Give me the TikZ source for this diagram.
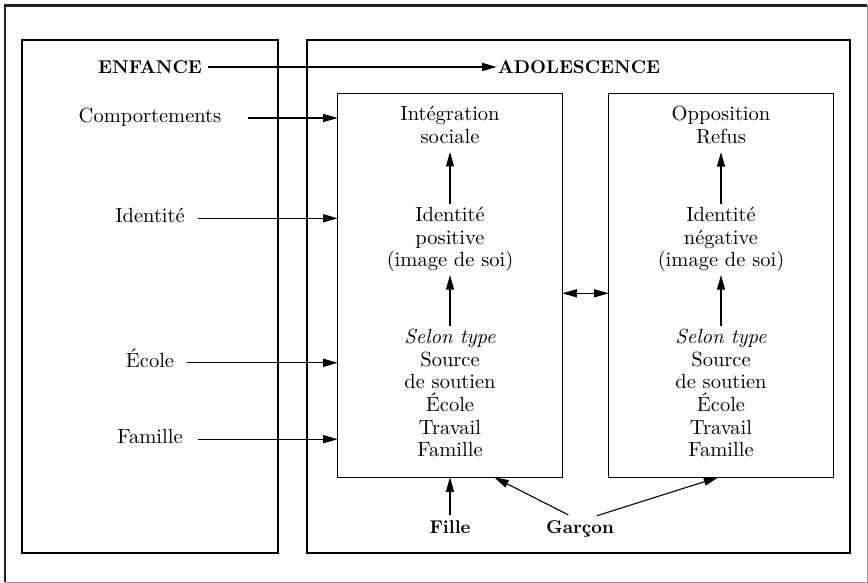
\documentclass[tikz,border=0pt]{standalone}
\usepackage{fontspec}
\setmainfont{lmroman10-regular.otf}[BoldFont=lmroman10-bold.otf, ItalicFont=lmroman10-italic.otf, BoldItalicFont=lmroman10-bolditalic.otf]
\usetikzlibrary{arrows.meta}
\begin{document}
\begin{tikzpicture}[x=1pt,y=-1pt,
  every node/.style={font=\fontsize{20.5}{22.6}\selectfont},
  txt/.style={align=center, inner sep=3pt},
  lbl/.style={inner sep=0pt, text height=14pt, text depth=5pt},
  bld/.style={font=\fontsize{18.5}{22}\selectfont\bfseries, inner sep=0pt, text height=12.7pt, text depth=0pt},
  box/.style={draw, line width=1.2pt, inner sep=0pt, outer sep=0pt},
  arr/.style={line width=1.1pt, -{Triangle[length=14.5pt,width=8pt]}},
  darr/.style={line width=1.1pt, {Triangle[length=14.5pt,width=8pt]}-{Triangle[length=14.5pt,width=8pt]}},
  framedark/.style={line width=2.4pt, black!88},
  framelight/.style={line width=0.9pt, black!40}
]
\useasboundingbox (0,0) rectangle (868,583);

% outer frame
\draw[framelight] (867,5.5) -- (867,582) -- (4.7,582);
\draw[framedark] (4.7,582) -- (4.7,5.5) -- (867,5.5);

% main boxes
\node[box, minimum width=256pt, minimum height=513pt] (enfbox) at (150,296.5) {};
\node[box, minimum width=543pt, minimum height=513pt] (adobox) at (578.5,296.5) {};
\node[box, minimum width=224.6pt, minimum height=384pt] (posbox) at (450,285.3) {};
\node[box, minimum width=224.6pt, minimum height=384pt] (negbox) at (721,285.3) {};

% headings
\node[bld] (enf) at (150,67) {ENFANCE};
\node[bld] (ado) at (579,67) {ADOLESCENCE};
\draw[arr, shorten <=6pt, shorten >=1pt] (enf.east) -- (ado.west);

% left labels
\node[lbl] (comp) at (150,118) {Comportements};
\node[lbl] (ident) at (150,218.3) {Identité};
\node[lbl] (ecole) at (150,362.8) {École};
\node[lbl] (fam) at (150,439.2) {Famille};
\draw[arr, shorten <=27pt] (comp.east) -- (comp.east -| posbox.west);
\draw[arr, shorten <=13pt] (ident.east) -- (ident.east -| posbox.west);
\draw[arr, shorten <=13pt] (ecole.east) -- (ecole.east -| posbox.west);
\draw[arr, shorten <=15pt] (fam.east) -- (fam.east -| posbox.west);

% positive box
\node[txt] (integ) at (450,125.2) {Intégration\\sociale};
\node[txt] (idpos) at (450,239.6) {Identité\\positive\\(image de soi)};
\node[txt] (srcpos) at (450,393.1) {\textit{Selon type}\\Source\\de soutien\\École\\Travail\\Famille};
\draw[arr, shorten >=5pt] (idpos.north) -- (integ.south);
\draw[arr] (srcpos.north) -- (idpos.south);

% negative box
\node[txt] (oppo) at (721,125.2) {Opposition\\Refus};
\node[txt] (idneg) at (721,239.6) {Identité\\négative\\(image de soi)};
\node[txt] (srcneg) at (721,393.1) {\textit{Selon type}\\Source\\de soutien\\École\\Travail\\Famille};
\draw[arr, shorten >=5pt] (idneg.north) -- (oppo.south);
\draw[arr] (srcneg.north) -- (idneg.south);

% between boxes
\draw[darr] ([yshift=-8pt]posbox.east) -- ([yshift=-8pt]negbox.west);

% bottom
\node[bld, anchor=base] (fille) at (450,533) {Fille};
\node[bld, anchor=base] (garcon) at (580,533) {Garçon};
\draw[arr] ([yshift=5.3pt]fille.north) -- (posbox.south);
\draw[arr] ([xshift=-11.7pt,yshift=5.2pt]garcon.north) -- ([xshift=44.3pt]posbox.south);
\draw[arr] ([xshift=16.7pt,yshift=4.3pt]garcon.north) -- ([xshift=-2.7pt]negbox.south);
\end{tikzpicture}
\end{document}
